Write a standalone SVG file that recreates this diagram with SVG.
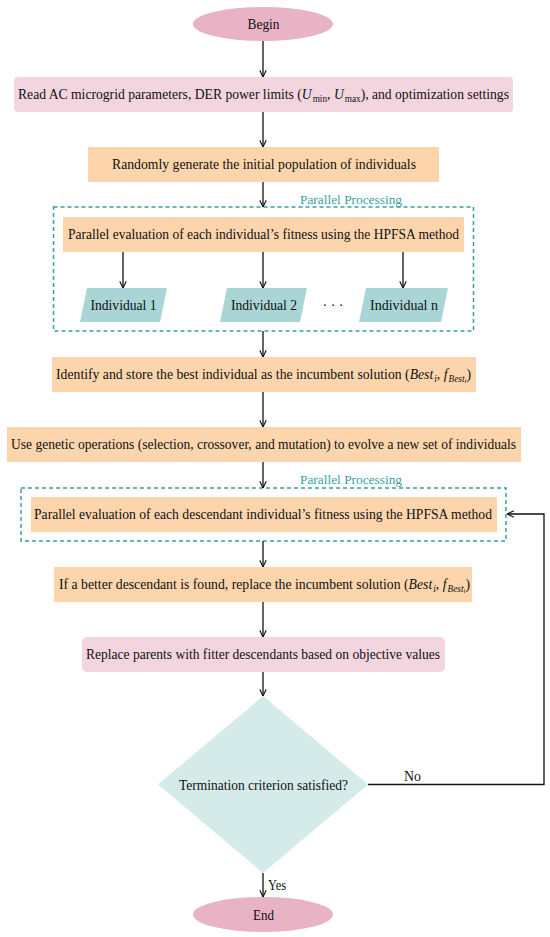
<svg xmlns="http://www.w3.org/2000/svg" width="550" height="937" viewBox="0 0 550 937" font-family="'Liberation Serif', 'DejaVu Serif', serif">
<style>
text{font-family:"Liberation Serif","DejaVu Serif",serif;font-size:14px;fill:#111}
.pink{fill:#f3d5df}
.orange{fill:#fcd5ad}
.term{fill:#e9b3c6}
.para{fill:#a9d5d6}
.dia{fill:#d5ebea}
.dash{fill:none;stroke:#3a9fa1;stroke-width:1.5;stroke-dasharray:4 3}
.pp{fill:#3a9fa1;font-size:13.5px}
.c{fill:none;stroke:#111;stroke-width:1.3}
.it{font-style:italic}
.sub{font-size:9.5px}
</style>
<defs>
<marker id="ah" viewBox="0 0 10 10" refX="9.5" refY="5" markerWidth="8" markerHeight="8" markerUnits="userSpaceOnUse" orient="auto">
<path d="M1,1 L9.5,5 L1,9" fill="none" stroke="#111" stroke-width="1.4"/>
</marker>
</defs>

<g id="begin"><ellipse class="term" cx="263" cy="24" rx="70" ry="17"/><text x="263.5" y="29" text-anchor="middle" textLength="32" lengthAdjust="spacingAndGlyphs">Begin</text></g>

<g id="read"><rect class="pink" x="14" y="77" width="499" height="35" rx="4"/><text x="263.5" y="98.5" text-anchor="middle" textLength="491" lengthAdjust="spacingAndGlyphs">Read AC microgrid parameters, DER power limits (<tspan class="it">U</tspan><tspan class="sub" dx="1" dy="3">min</tspan><tspan dy="-3">, </tspan><tspan class="it">U</tspan><tspan class="sub" dx="1" dy="3">max</tspan><tspan dy="-3">), and optimization settings</tspan></text></g>

<g id="init"><rect class="orange" x="88" y="147" width="351" height="35"/><text x="264" y="169" text-anchor="middle" textLength="304" lengthAdjust="spacingAndGlyphs">Randomly generate the initial population of individuals</text></g>

<g id="parallel1">
<rect class="dash" x="53.5" y="207" width="420" height="124"/>
<text class="pp" x="351" y="204" text-anchor="middle" textLength="102" lengthAdjust="spacingAndGlyphs">Parallel Processing</text>
</g>

<g id="eval1"><rect class="orange" x="63" y="217" width="401" height="35"/><text x="263.5" y="239" text-anchor="middle" textLength="391" lengthAdjust="spacingAndGlyphs">Parallel evaluation of each individual’s fitness using the HPFSA method</text></g>

<g id="ind1"><polygon class="para" points="87,288 167,288 160,322 80,322"/><text x="123.5" y="310" text-anchor="middle" textLength="66" lengthAdjust="spacingAndGlyphs">Individual 1</text></g>
<g id="ind2"><polygon class="para" points="227,288 307,288 300,322 220,322"/><text x="264" y="310" text-anchor="middle" textLength="66" lengthAdjust="spacingAndGlyphs">Individual 2</text></g>
<g id="dots"><text x="333" y="309.5" text-anchor="middle">· · ·</text></g>
<g id="indn"><polygon class="para" points="366,288 448,288 441,322 359,322"/><text x="404" y="310" text-anchor="middle" textLength="68" lengthAdjust="spacingAndGlyphs">Individual n</text></g>

<g id="best"><rect class="orange" x="52" y="357" width="424" height="35"/><text x="263.5" y="378.5" text-anchor="middle" textLength="415" lengthAdjust="spacingAndGlyphs">Identify and store the best individual as the incumbent solution (<tspan class="it">Best</tspan><tspan class="sub it" dx="1" dy="3">i</tspan><tspan dy="-3">, </tspan><tspan class="it">f</tspan><tspan class="sub it" dx="1" dy="3">Best</tspan><tspan class="it" font-size="7" dy="1.5">i</tspan><tspan dy="-4.5">)</tspan></text></g>

<g id="genetic"><rect class="orange" x="7" y="427" width="514" height="35"/><text x="263.5" y="448.5" text-anchor="middle" textLength="505" lengthAdjust="spacingAndGlyphs">Use genetic operations (selection, crossover, and mutation) to evolve a new set of individuals</text></g>

<g id="parallel2">
<rect class="dash" x="21" y="488" width="485" height="53"/>
<text class="pp" x="351" y="484" text-anchor="middle" textLength="102" lengthAdjust="spacingAndGlyphs">Parallel Processing</text>
</g>

<g id="eval2"><rect class="orange" x="31" y="497" width="466" height="35"/><text x="263" y="519" text-anchor="middle" textLength="458" lengthAdjust="spacingAndGlyphs">Parallel evaluation of each descendant individual’s fitness using the HPFSA method</text></g>

<g id="replaceBest"><rect class="orange" x="54" y="567" width="418" height="35"/><text x="264.5" y="588.5" text-anchor="middle" textLength="411" lengthAdjust="spacingAndGlyphs">If a better descendant is found, replace the incumbent solution (<tspan class="it">Best</tspan><tspan class="sub it" dx="1" dy="3">i</tspan><tspan dy="-3">, </tspan><tspan class="it">f</tspan><tspan class="sub it" dx="1" dy="3">Best</tspan><tspan class="it" font-size="7" dy="1.5">i</tspan><tspan dy="-4.5">)</tspan></text></g>

<g id="replaceParents"><rect class="pink" x="82" y="637" width="363" height="35" rx="5"/><text x="263" y="659" text-anchor="middle" textLength="354" lengthAdjust="spacingAndGlyphs">Replace parents with fitter descendants based on objective values</text></g>

<g id="decision"><polygon class="dia" points="263,696 368,784.5 263,873 158,784.5"/><text x="263.5" y="789.5" text-anchor="middle" textLength="169" lengthAdjust="spacingAndGlyphs">Termination criterion satisfied?</text></g>

<g id="end"><ellipse class="term" cx="263" cy="914.5" rx="70" ry="17.5"/><text x="263.5" y="919.5" text-anchor="middle" textLength="21" lengthAdjust="spacingAndGlyphs">End</text></g>

<g id="connectors">
<line class="c" x1="263" y1="41" x2="263" y2="77" marker-end="url(#ah)"/>
<line class="c" x1="263" y1="112" x2="263" y2="147" marker-end="url(#ah)"/>
<line class="c" x1="263" y1="182" x2="263" y2="207" marker-end="url(#ah)"/>
<line class="c" x1="123" y1="252" x2="123" y2="288" marker-end="url(#ah)"/>
<line class="c" x1="263" y1="252" x2="263" y2="288" marker-end="url(#ah)"/>
<line class="c" x1="403" y1="252" x2="403" y2="288" marker-end="url(#ah)"/>
<line class="c" x1="263" y1="331" x2="263" y2="357" marker-end="url(#ah)"/>
<line class="c" x1="263" y1="392" x2="263" y2="427" marker-end="url(#ah)"/>
<line class="c" x1="263" y1="462" x2="263" y2="488" marker-end="url(#ah)"/>
<line class="c" x1="263" y1="541" x2="263" y2="567" marker-end="url(#ah)"/>
<line class="c" x1="263" y1="602" x2="263" y2="637" marker-end="url(#ah)"/>
<line class="c" x1="263" y1="672" x2="263" y2="696" marker-end="url(#ah)"/>
<line class="c" x1="263" y1="873" x2="263" y2="897" marker-end="url(#ah)"/>
<path class="c" d="M368,784.5 H544 V514 H507" marker-end="url(#ah)"/>
<text x="404" y="780.5" textLength="17" lengthAdjust="spacingAndGlyphs">No</text>
<text x="268" y="890" textLength="18" lengthAdjust="spacingAndGlyphs">Yes</text>
</g>
</svg>
